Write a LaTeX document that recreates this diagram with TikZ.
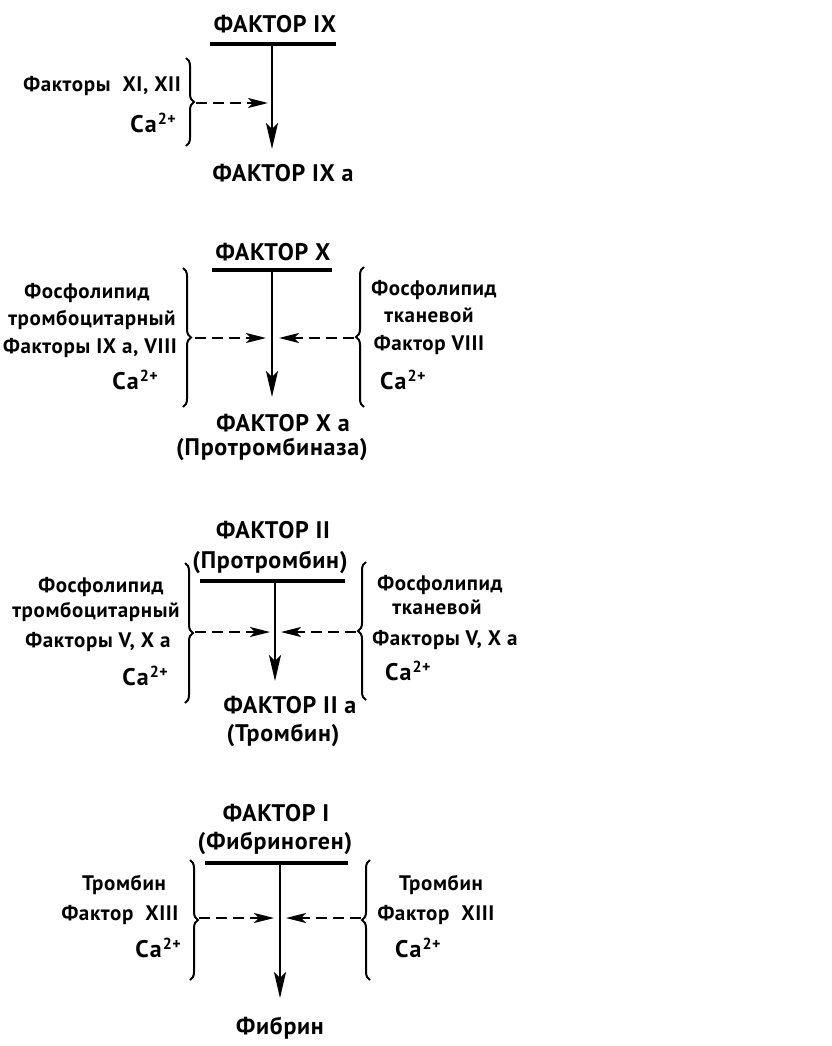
\documentclass[tikz,border=0pt]{standalone}
\usepackage{fontspec}
\setmainfont[LetterSpace=3]{PT Sans}
\usetikzlibrary{arrows.meta,decorations.pathreplacing}
\newcommand\caion{{\fontsize{24}{24}\selectfont C\kern1pt a}\kern1pt\raisebox{8pt}{\fontsize{16}{16}\selectfont 2+}}
\tikzset{
  hd/.style={font=\fontsize{24}{24}\selectfont\bfseries, inner sep=0pt},
  lb/.style={font=\fontsize{21}{21}\selectfont\bfseries, inner sep=0pt},
  barline/.style={line width=3.5pt},
  mainarrow/.style={line width=2.5pt, -{Stealth[length=26pt,width=12pt,inset=6pt]}},
  dasharrow/.style={line width=2pt, dash pattern=on 11pt off 6pt, -{Stealth[length=20pt,width=10pt,inset=5pt]}},
  bracel/.style={decorate, decoration={brace,amplitude=8pt}, line width=2pt},
}
\begin{document}
\begin{tikzpicture}[x=1pt,y=-1pt]
\useasboundingbox (0,0) rectangle (831,1046);
% ---------- block 1
\node[hd] (f9) at (275,24) {ФАКТОР IX};
\coordinate (b1l) at (210,44); \coordinate (b1r) at (336,44);
\draw[barline] (b1l) -- (b1r);
\coordinate (v1t) at (272,44); \coordinate (v1b) at (272,149);
\draw[mainarrow] (v1t) -- (v1b);
\node[lb, anchor=east] (l1a) at (181,86) {Факторы\ \ XI, XII};
\node[lb, anchor=east] (l1b) at (176,123) {\caion};
\coordinate (br1t) at (186,58); \coordinate (br1b) at (186,146);
\draw[bracel] (br1t) -- (br1b);
\coordinate (d1s) at (196,103); \coordinate (d1e) at (268,103);
\draw[dasharrow] (d1s) -- (d1e);
\node[hd] (f9a) at (283,173) {ФАКТОР IX a};
% ---------- block 2
\node[hd] (f10) at (273,252) {ФАКТОР X};
\coordinate (b2l) at (212,270); \coordinate (b2r) at (332,270);
\draw[barline] (b2l) -- (b2r);
\coordinate (v2t) at (272,270); \coordinate (v2b) at (272,397);
\draw[mainarrow] (v2t) -- (v2b);
\node[lb] (l2a) at (87,293) {Фосфолипид};
\node[lb] (l2b) at (92,320) {тромбоцитарный};
\node[lb] (l2c) at (90,348) {Факторы IX a, VIII};
\node[lb, anchor=east] (l2d) at (158,380) {\caion};
\coordinate (br2t) at (183,268); \coordinate (br2b) at (183,407);
\draw[bracel] (br2t) -- (br2b);
\coordinate (d2s) at (195,338); \coordinate (d2e) at (266,338);
\draw[dasharrow] (d2s) -- (d2e);
\coordinate (br2rt) at (364,267); \coordinate (br2rb) at (364,407);
\draw[bracel] (br2rb) -- (br2rt);
\coordinate (d2rs) at (354,338); \coordinate (d2re) at (279,338);
\draw[dasharrow] (d2rs) -- (d2re);
\node[lb] (r2a) at (434,290) {Фосфолипид};
\node[lb] (r2b) at (429,315) {тканевой};
\node[lb] (r2c) at (429,345) {Фактор VIII};
\node[lb, anchor=west] (r2d) at (380,380) {\caion};
\node[hd] (f10a) at (283,423) {ФАКТОР X a};
\node[hd] (f10b) at (272,449) {(Протромбиназа)};
% ---------- block 3
\node[hd] (f2) at (273,530) {ФАКТОР II};
\node[hd] (f2b) at (270,562) {(Протромбин)};
\coordinate (b3l) at (200,581); \coordinate (b3r) at (345,581);
\draw[barline] (b3l) -- (b3r);
\coordinate (v3t) at (275,581); \coordinate (v3b) at (275,681);
\draw[mainarrow] (v3t) -- (v3b);
\node[lb] (l3a) at (101,587) {Фосфолипид};
\node[lb] (l3b) at (96,612) {тромбоцитарный};
\node[lb] (l3c) at (98,642) {Факторы V, X a};
\node[lb, anchor=east] (l3d) at (168,676) {\caion};
\coordinate (br3t) at (185,563); \coordinate (br3b) at (185,703);
\draw[bracel] (br3t) -- (br3b);
\coordinate (d3s) at (195,632); \coordinate (d3e) at (270,632);
\draw[dasharrow] (d3s) -- (d3e);
\coordinate (br3rt) at (366,562); \coordinate (br3rb) at (366,700);
\draw[bracel] (br3rb) -- (br3rt);
\coordinate (d3rs) at (356,632); \coordinate (d3re) at (281,632);
\draw[dasharrow] (d3rs) -- (d3re);
\node[lb] (r3a) at (440,585) {Фосфолипид};
\node[lb] (r3b) at (437,607) {тканевой};
\node[lb] (r3c) at (445,640) {Факторы V, X a};
\node[lb, anchor=west] (r3d) at (385,671) {\caion};
\node[hd] (f2a) at (290,705) {ФАКТОР II a};
\node[hd] (f2c) at (283,735) {(Тромбин)};
% ---------- block 4
\node[hd] (f1) at (276,813) {ФАКТОР I};
\node[hd] (f1b) at (275,843) {(Фибриноген)};
\coordinate (b4l) at (205,863); \coordinate (b4r) at (348,863);
\draw[barline] (b4l) -- (b4r);
\coordinate (v4t) at (280,863); \coordinate (v4b) at (280,998);
\draw[mainarrow] (v4t) -- (v4b);
\node[lb] (l4a) at (124,885) {Тромбин};
\node[lb] (l4b) at (120,915) {Фактор\ \ XIII};
\node[lb, anchor=east] (l4c) at (181,948) {\caion};
\coordinate (br4t) at (190,860); \coordinate (br4b) at (190,980);
\draw[bracel] (br4t) -- (br4b);
\coordinate (d4s) at (199,918); \coordinate (d4e) at (274,918);
\draw[dasharrow] (d4s) -- (d4e);
\coordinate (br4rt) at (370,860); \coordinate (br4rb) at (370,980);
\draw[bracel] (br4rb) -- (br4rt);
\coordinate (d4rs) at (361,918); \coordinate (d4re) at (286,918);
\draw[dasharrow] (d4rs) -- (d4re);
\node[lb] (r4a) at (441,885) {Тромбин};
\node[lb] (r4b) at (436,915) {Фактор\ \ XIII};
\node[lb, anchor=west] (r4c) at (395,948) {\caion};
\node[hd] (fib) at (280,1028) {Фибрин};
\end{tikzpicture}
\end{document}
